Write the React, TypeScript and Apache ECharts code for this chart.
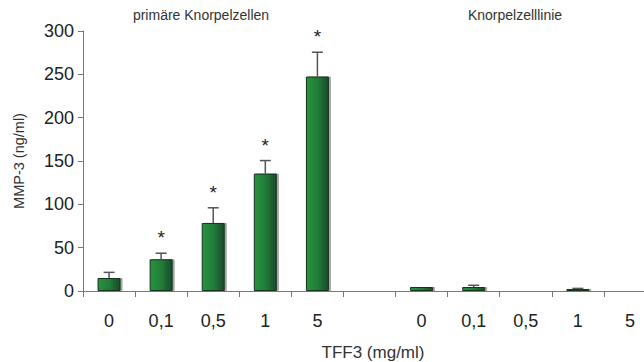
import React, { useEffect, useRef } from "react";
import * as echarts from "echarts";

const categories = ["0", "0,1", "0,5", "1", "5", "", "0", "0,1", "0,5", "1", "5"];
const means: (number | null)[] = [15, 36.6, 78.5, 135.5, 247.5, null, 4.6, 4.6, null, 2.3, null];
const errors: (number | null)[] = [6.5, 7, 17.5, 15, 28, null, 0, 2, null, 0.7, null];
const significant = [false, true, true, true, true, false, false, false, false, false, false];
const groupTitles = ["primäre Knorpelzellen", "Knorpelzelllinie"];
const yTicks = { min: 0, max: 300, interval: 50 };

const FONT = "'Liberation Sans', Arial, Helvetica, sans-serif";

export default function App() {
  const ref = useRef<HTMLDivElement>(null);
  useEffect(() => {
    if (!ref.current) return;
    const chart = echarts.init(ref.current, null, { renderer: "svg" });
    const errData = means.map((m, i) =>
      m == null || errors[i] == null ? null : [i, m, (m as number) + (errors[i] as number), significant[i] ? 1 : 0]
    );
    chart.setOption({
      animation: false,
      textStyle: { fontFamily: FONT },
      grid: { left: 83, right: -12, top: 31, bottom: 71, containLabel: false, outerBoundsMode: "none" },
      graphic: [
        { type: "text", x: 201, y: 15, style: { text: groupTitles[0], font: `14px ${FONT}`, fill: "#333", textAlign: "center", textVerticalAlign: "middle" } },
        { type: "text", x: 515, y: 15, style: { text: groupTitles[1], font: `14px ${FONT}`, fill: "#333", textAlign: "center", textVerticalAlign: "middle" } },
      ],
      xAxis: {
        type: "category",
        data: categories,
        name: "TFF3 (mg/ml)",
        nameLocation: "middle",
        nameGap: 53,
        nameTextStyle: { fontSize: 17, color: "#333", fontFamily: FONT, padding: [0, 0, 0, 7] },
        axisLine: { lineStyle: { color: "#777", width: 1 } },
        axisTick: { show: true, length: 6, lineStyle: { color: "#777" } },
        axisLabel: { fontSize: 18, color: "#222", margin: 21, fontFamily: FONT, interval: 0 },
      },
      yAxis: {
        type: "value",
        min: yTicks.min,
        max: yTicks.max,
        interval: yTicks.interval,
        name: "MMP-3 (ng/ml)",
        nameLocation: "middle",
        nameGap: 57,
        nameTextStyle: { fontSize: 14.5, color: "#333", fontFamily: FONT },
        axisLine: { show: true, lineStyle: { color: "#777", width: 1 } },
        axisTick: { show: true, length: 5, lineStyle: { color: "#777" } },
        splitLine: { show: false },
        axisLabel: { fontSize: 18, color: "#222", margin: 9, fontFamily: FONT },
      },
      series: [
        {
          type: "bar",
          data: means,
          barWidth: 23,
          itemStyle: {
            color: {
              type: "linear", x: 0, y: 0, x2: 1, y2: 0,
              colorStops: [
                { offset: 0, color: "#28933f" },
                { offset: 0.5, color: "#227d38" },
                { offset: 1, color: "#1b4a2b" },
              ],
            },
            borderColor: "#15341c",
            borderWidth: 1,
            shadowColor: "rgba(0,0,0,0.35)",
            shadowOffsetX: 2,
            shadowOffsetY: 0,
            shadowBlur: 0,
          },
          z: 2,
        },
        {
          type: "custom",
          data: errData.filter((d) => d != null),
          z: 3,
          renderItem: (params: any, api: any) => {
            const x = api.value(0);
            const base = api.coord([x, api.value(1)]);
            const top = api.coord([x, api.value(2)]);
            const children: any[] = [];
            if (api.value(2) > api.value(1)) {
              children.push(
                { type: "line", shape: { x1: base[0], y1: base[1], x2: top[0], y2: top[1] }, style: { stroke: "#555", lineWidth: 1.5 } },
                { type: "line", shape: { x1: top[0] - 5.5, y1: top[1], x2: top[0] + 5.5, y2: top[1] }, style: { stroke: "#555", lineWidth: 1.5 } }
              );
            }
            if (api.value(3) === 1) {
              children.push({
                type: "text",
                x: top[0],
                y: top[1] - 6,
                style: { text: "*", font: `19px ${FONT}`, fill: "#222", textAlign: "center", textVerticalAlign: "bottom" },
              });
            }
            return { type: "group", children };
          },
        },
      ],
    });
    return () => chart.dispose();
  }, []);
  return <div ref={ref} style={{ position: "absolute", left: 0, top: 0, width: 644, height: 362 }} />;
}
